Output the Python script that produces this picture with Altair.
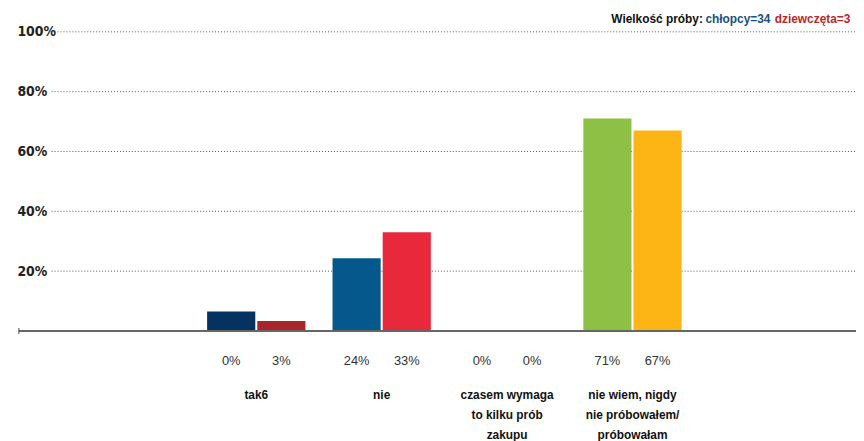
import altair as alt
import pandas as pd

categories = ["tak6", "nie", "czasem wymaga\nto kilku prób\nzakupu", "nie wiem, nigdy\nnie próbowałem/\npróbowałam"]
groups = ["chłopcy", "dziewczęta"]
boys_values = [6.5, 24.3, 0, 71]
girls_values = [3.3, 33, 0, 67]
boys_labels = ["0%", "24%", "0%", "71%"]
girls_labels = ["3%", "33%", "0%", "67%"]
header_parts = ["Wielkość próby:", "chłopcy=34", "dziewczęta=3"]
y_ticks = [20, 40, 60, 80, 100]

bar_colors_boys = ["#05335f", "#05588c", "#8dc044", "#8dc044"]
bar_colors_girls = ["#a8252b", "#e8293b", "#fdb515", "#fdb515"]
header_colors = ["#111111", "#1a4f7f", "#b5282b"]

rows = []
keys, cols = [], []
for i, c in enumerate(categories):
    for g, vals, labs, colz in [(groups[0], boys_values, boys_labels, bar_colors_boys),
                                (groups[1], girls_values, girls_labels, bar_colors_girls)]:
        k = f"{i}-{g}"
        rows.append({"cat": c, "grp": g, "value": vals[i], "label": labs[i], "key": k})
        keys.append(k)
        cols.append(colz[i])
df = pd.DataFrame(rows)

W, H = 812, 302
xs = alt.X("cat:N", sort=categories,
           scale=alt.Scale(paddingInner=0.216, paddingOuter=0, range=[157, 636]),
           axis=alt.Axis(title=None, domain=False, ticks=False, labelAngle=0,
                         labelExpr="split(datum.label, '\\n')",
                         labelFont="Liberation Sans, Arial, sans-serif", labelFontSize=12,
                         labelFontWeight="bold", labelColor="#111111",
                         labelLineHeight=20.5, labelPadding=59, labelBaseline="top"))
xo = alt.XOffset("grp:N", sort=groups, scale=alt.Scale(paddingInner=0.04))

grid = alt.Chart(pd.DataFrame({"v": y_ticks})).mark_rule(
    color="#555555", strokeWidth=1, strokeDash=[1, 2]).encode(
    y=alt.Y("v:Q", scale=alt.Scale(domain=[0, 100], nice=False),
            axis=alt.Axis(title=None, values=y_ticks, domain=False, ticks=False, tickSize=0,
                          grid=False,
                          labelExpr="datum.value + '%'", labelAlign="left", labelPadding=35,
                          labelFont="Liberation Sans Narrow, DejaVu Sans Condensed, Roboto Condensed, sans-serif",
                          labelFontWeight="bold", labelFontSize=14, labelColor="#222222")),
    x=alt.value(0), x2=alt.value(W))

base = alt.Chart(df)

bars = base.mark_bar().encode(
    x=xs, xOffset=xo,
    y=alt.Y("value:Q"),
    color=alt.Color("key:N", scale=alt.Scale(domain=keys, range=cols), legend=None),
)

vals = base.mark_text(font="Liberation Sans, Arial, sans-serif", fontSize=13, color="#333333",
                      baseline="middle").encode(
    x=xs, xOffset=xo, y=alt.value(H + 30), text="label:N")

baseline = alt.Chart(pd.DataFrame({"v": [0]})).mark_rule(color="#666666", strokeWidth=2).encode(
    y=alt.Y("v:Q"), x=alt.value(-33), x2=alt.value(W))
lefttick = alt.Chart(pd.DataFrame({"v": [0]})).mark_rule(color="#444444", strokeWidth=1).encode(
    x=alt.value(-33), y=alt.value(H - 3), y2=alt.value(H + 3))

hx = [565, 660, 730]
header_layers = []
for t, c, x in zip(header_parts, header_colors, hx):
    header_layers.append(
        alt.Chart(pd.DataFrame({"t": [t]})).mark_text(
            font="Liberation Sans, Arial, sans-serif", fontSize=12, fontWeight="bold",
            color=c, align="left", baseline="middle").encode(
            x=alt.value(x), y=alt.value(-13), text="t:N"))

chart = alt.layer(grid, bars, vals, baseline, lefttick, *header_layers).resolve_scale(
    y="shared").properties(
    width=W, height=H,
    autosize=alt.AutoSizeParams(type="none"),
    padding={"left": 44, "top": 22, "right": 0, "bottom": 109},
    background="white",
).configure_view(stroke=None)

chart.save("out.html", embed_options={"renderer": "svg", "actions": False})
